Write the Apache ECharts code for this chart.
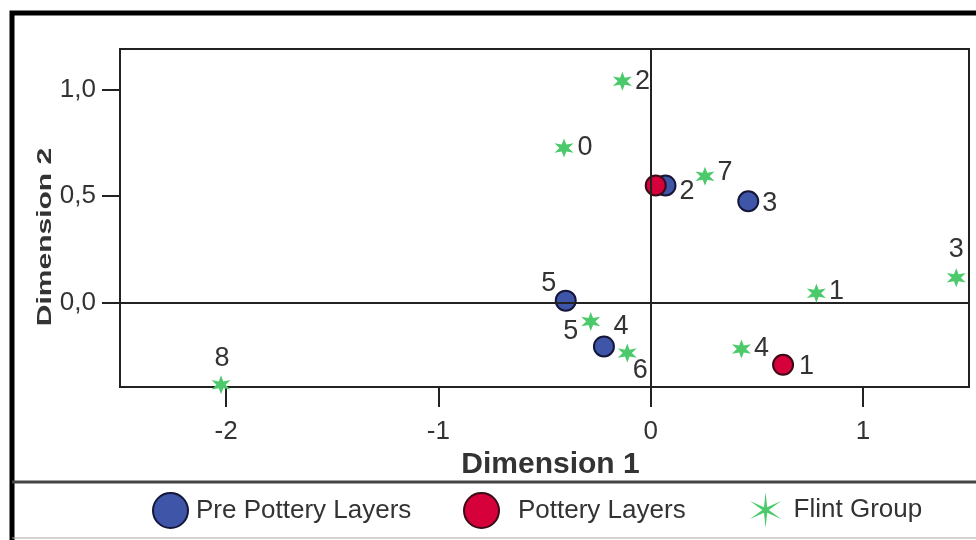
<!DOCTYPE html>
<html>
<head>
    <meta charset="utf-8">
    <title>Dimension plot</title>
    <script src="https://cdn.jsdelivr.net/npm/echarts@6/dist/echarts.min.js"></script>
    <style>
        html, body { margin: 0; padding: 0; background: #fff; }
        #main { width: 976px; height: 540px; }
    </style>
</head>
<body>
<div id="main"></div>
<script type="text/javascript">
// data
var xTicks = [-2, -1, 0, 1];
var yTicks = [0, 0.5, 1.0];

var preNames = ['2', '3', '4', '5'];
var preX = [0.07, 0.46, -0.22, -0.40];
var preY = [0.55, 0.476, -0.205, 0.01];

var potNames = ['2', '1'];
var potX = [0.024, 0.624];
var potY = [0.55, -0.291];

var flintNames = ['0', '1', '2', '3', '4', '5', '6', '7', '8'];
var flintX = [-0.408, 0.781, -0.133, 1.44, 0.428, -0.282, -0.11, 0.256, -2.024];
var flintY = [0.726, 0.045, 1.039, 0.117, -0.217, -0.088, -0.236, 0.593, -0.385];

// label placement (style only)
var preLab = [['right', [0, 6]], ['right', [0, 2]], ['top', [17, 8]], ['top', [-17, 10]]];
var potLab = [null, ['right', [2, 2]]];
var flintLab = [['right', [1, 0]], ['right', [0, -2]], ['right', [0, 0]], ['top', [0, -2]],
    ['right', [0, 0]], ['left', [0, 10]], ['right', [-7, 17]], ['right', [0, -4]], ['top', [1, 0]]];

var FONT = '"Liberation Sans", Arial, sans-serif';

// six-pointed star, inner radius decides how thin the arms are
function starPath(inner) {
    var pts = [];
    for (var i = 0; i < 12; i++) {
        var a = Math.PI / 6 * i - Math.PI / 2;
        var r = i % 2 === 0 ? 50 : inner;
        pts.push((50 + r * Math.cos(a)).toFixed(2) + ',' + (50 + r * Math.sin(a)).toFixed(2));
    }
    return 'path://M' + pts.join('L') + 'Z';
}
var STAR = starPath(21);
var STAR_LEGEND = starPath(9);

function build(names, xs, ys, labs) {
    var out = [];
    for (var i = 0; i < names.length; i++) {
        var l = labs[i];
        out.push({
            name: names[i],
            value: [xs[i], ys[i]],
            label: l ? { show: true, position: l[0], offset: l[1], distance: 3 } : { show: false }
        });
    }
    return out;
}

var pointLabel = {
    show: true,
    formatter: function (p) { return p.name; },
    fontFamily: FONT,
    fontSize: 27,
    color: '#333'
};

var myChart = echarts.init(document.getElementById('main'));

var option = {
    backgroundColor: '#fff',
    animation: false,
    grid: {
        left: 120, top: 49, width: 849, height: 338,
        show: true, borderColor: '#222', borderWidth: 2,
        backgroundColor: 'transparent'
    },
    xAxis: {
        type: 'value',
        min: -2.5, max: 1.5,
        name: 'Dimension 1',
        nameLocation: 'middle',
        nameGap: 46,
        nameTextStyle: { fontFamily: FONT, fontSize: 30, fontWeight: 'bold', color: '#333', padding: [0, 0, 0, 12] },
        axisLine: { show: true, onZero: false, lineStyle: { color: '#222', width: 2 } },
        axisTick: { show: true, inside: false, length: 20, customValues: xTicks, lineStyle: { color: '#222', width: 2 } },
        axisLabel: {
            customValues: xTicks, margin: 32,
            fontFamily: FONT, fontSize: 26, color: '#333',
            formatter: function (v) { return String(v); }
        },
        splitLine: { show: false }
    },
    yAxis: {
        type: 'value',
        min: -0.395, max: 1.19,
        axisLine: { show: true, onZero: false, lineStyle: { color: '#222', width: 2 } },
        axisTick: { show: true, inside: false, length: 18, customValues: yTicks, lineStyle: { color: '#222', width: 2 } },
        axisLabel: {
            customValues: yTicks, margin: 24,
            fontFamily: FONT, fontSize: 26, color: '#333',
            formatter: function (v) { return v.toFixed(1).replace('.', ','); }
        },
        splitLine: { show: false }
    },
    legend: [
        {
            data: ['Pre Pottery Layers'], left: 152, top: 492, padding: 0,
            itemWidth: 35, itemHeight: 35, icon: 'circle',
            textStyle: { fontFamily: FONT, fontSize: 26, color: '#333', padding: [0, 0, 0, 3] }
        },
        {
            data: ['Pottery Layers'], left: 463, top: 492, padding: 0,
            itemWidth: 35, itemHeight: 35, icon: 'circle',
            textStyle: { fontFamily: FONT, fontSize: 26, color: '#333', padding: [0, 0, 0, 14] }
        },
        {
            data: ['Flint Group'], left: 750, top: 492, padding: 0,
            itemWidth: 36, itemHeight: 36, icon: STAR_LEGEND,
            textStyle: { fontFamily: FONT, fontSize: 26, color: '#333', padding: [0, 0, 0, 5] }
        }
    ],
    graphic: [
        { type: 'rect', shape: { x: 12, y: 13, width: 1100, height: 700 }, style: { fill: 'none', stroke: '#000', lineWidth: 5 }, z: 100 },
        { type: 'line', shape: { x1: 12, y1: 482, x2: 976, y2: 482 }, style: { stroke: '#444', lineWidth: 3 }, z: 100 },
        { type: 'line', shape: { x1: 12, y1: 538, x2: 976, y2: 538 }, style: { stroke: '#aaa', lineWidth: 1 }, z: 100 },
        {
            type: 'text', x: 45, y: 237, rotation: Math.PI / 2, scaleX: 1.5,
            style: {
                text: 'Dimension 2', fill: '#333', font: 'bold 20px ' + FONT,
                textAlign: 'center', textVerticalAlign: 'middle'
            }, z: 100
        }
    ],
    series: [
        {
            name: 'Pre Pottery Layers',
            type: 'scatter',
            symbol: 'circle',
            symbolSize: 20,
            itemStyle: { color: '#3f56a8', borderColor: '#15163a', borderWidth: 2, opacity: 1 },
            label: pointLabel,
            data: build(preNames, preX, preY, preLab),
            markLine: {
                silent: true,
                symbol: 'none',
                label: { show: false },
                lineStyle: { color: '#222', width: 2, type: 'solid' },
                data: [{ xAxis: 0 }, { yAxis: 0 }]
            },
            z: 3
        },
        {
            name: 'Pottery Layers',
            type: 'scatter',
            symbol: 'circle',
            symbolSize: 20,
            itemStyle: { color: '#d6003b', borderColor: '#3a0a16', borderWidth: 2, opacity: 1 },
            label: pointLabel,
            data: build(potNames, potX, potY, potLab),
            z: 4
        },
        {
            name: 'Flint Group',
            type: 'scatter',
            symbol: STAR,
            symbolSize: 19,
            itemStyle: { color: '#4cc96b', opacity: 1 },
            label: pointLabel,
            data: build(flintNames, flintX, flintY, flintLab),
            z: 5
        }
    ]
};

myChart.setOption(option);
</script>
</body>
</html>
